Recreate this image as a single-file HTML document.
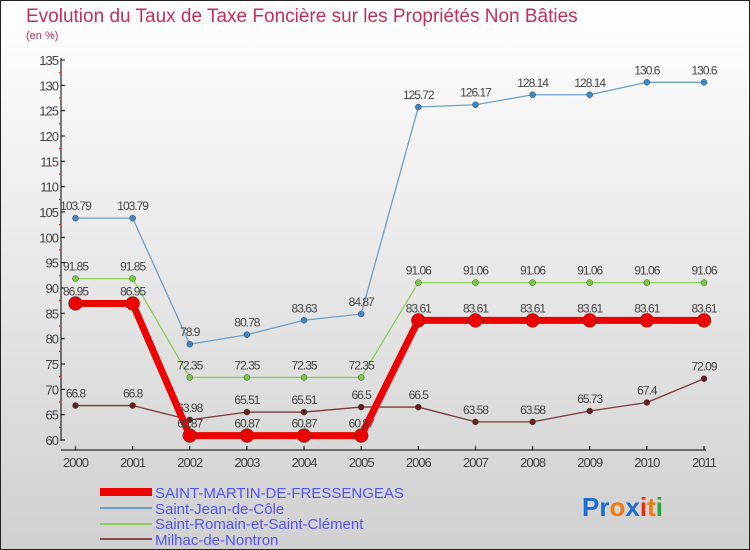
<!DOCTYPE html>
<html><head><meta charset="utf-8"><style>
body{margin:0;width:750px;height:550px;overflow:hidden}
svg{display:block;font-family:"Liberation Sans",sans-serif}
</style></head><body>
<svg id="c" width="750" height="550" xmlns="http://www.w3.org/2000/svg">
<defs><linearGradient id="bg" x1="0" y1="0" x2="0" y2="1"><stop offset="0" stop-color="#ffffff"/><stop offset="1" stop-color="#d0d0d0"/></linearGradient></defs>
<rect x="0.5" y="0.5" width="749" height="549" fill="url(#bg)" stroke="#222"/>
<text x="26" y="22" font-size="19" fill="#c0305a">Evolution du Taux de Taxe Foncière sur les Propriétés Non Bâties</text>
<text x="26" y="39" font-size="11" fill="#c0305a">(en %)</text>
<g id="axes"></g><g id="series"></g>
<g>
<rect x="100" y="488" width="52" height="8" fill="#ee0000"/>
<text x="155" y="498" font-size="15" fill="#5555ee">SAINT-MARTIN-DE-FRESSENGEAS</text>
<line x1="100" y1="508" x2="152" y2="508" stroke="#6fa0c8" stroke-width="2"/>
<text x="155" y="514" font-size="15" fill="#5555ee">Saint-Jean-de-Côle</text>
<line x1="100" y1="524" x2="152" y2="524" stroke="#8ccf5a" stroke-width="2"/>
<text x="155" y="529" font-size="15" fill="#5555ee">Saint-Romain-et-Saint-Clément</text>
<line x1="100" y1="539" x2="152" y2="539" stroke="#8a4a4a" stroke-width="2"/>
<text x="155" y="545" font-size="15" fill="#5555ee">Milhac-de-Nontron</text>
</g>
<text x="582" y="516" font-size="26" font-weight="bold"><tspan fill="#1a6fd0">Pr</tspan><tspan fill="#f07a10">o</tspan><tspan fill="#1a6fd0">x</tspan><tspan fill="#e03010">i</tspan><tspan fill="#f07a10">t</tspan><tspan fill="#30a040">i</tspan></text>
</svg>
<script>
const years=[2000,2001,2002,2003,2004,2005,2006,2007,2008,2009,2010,2011];
const yTicks=[60,65,70,75,80,85,90,95,100,105,110,115,120,125,130,135];
const saintMartin=[86.95,86.95,60.87,60.87,60.87,60.87,83.61,83.61,83.61,83.61,83.61,83.61];
const saintJean=[103.79,103.79,78.9,80.78,83.63,84.87,125.72,126.17,128.14,128.14,130.6,130.6];
const saintRomain=[91.85,91.85,72.35,72.35,72.35,72.35,91.06,91.06,91.06,91.06,91.06,91.06];
const milhac=[66.8,66.8,63.98,65.51,65.51,66.5,66.5,63.58,63.58,65.73,67.4,72.09];
const NS="http://www.w3.org/2000/svg";
const X=i=>75.5+i*(704-75.5)/(years.length-1);
const Y=v=>440-(v-60)*(380/75);
function mk(t,a,p){const e=document.createElementNS(NS,t);for(const k in a)e.setAttribute(k,a[k]);p.appendChild(e);return e;}
const ax=document.getElementById('axes');
mk('line',{x1:61,y1:58,x2:61,y2:441,stroke:'#000'},ax);
mk('line',{x1:61,y1:450,x2:706,y2:450,stroke:'#000'},ax);
yTicks.forEach(v=>{
 mk('line',{x1:61,y1:Y(v),x2:65,y2:Y(v),stroke:'#000'},ax);
 if(v<135)mk('line',{x1:59,y1:Y(v+2.5),x2:61,y2:Y(v+2.5),stroke:'#e00'},ax);
 const t=mk('text',{x:58,y:Y(v)+5,'font-size':13,fill:'#444','text-anchor':'end','letter-spacing':'-1'},ax);
 
 
 t.textContent=v;
});
years.forEach((yr,i)=>{
 mk('line',{x1:X(i),y1:446,x2:X(i),y2:450,stroke:'#000'},ax);
 const t=mk('text',{x:X(i),y:467,'font-size':13,fill:'#444','text-anchor':'middle','letter-spacing':'-1'},ax);
 
 
 t.textContent=yr;
});
const sg=document.getElementById('series');
function draw(name,data,color,w,r,ptFill){
 const g=mk('g',{},sg);
 
 
 const pl=mk('polyline',{points:data.map((v,i)=>X(i)+','+Y(v)).join(' '),fill:'none',stroke:color,'stroke-width':w,'stroke-linejoin':'round'},g);
 
 
 data.forEach((v,i)=>{
  const c=mk('circle',{cx:X(i),cy:Y(v),r:r,fill:ptFill,stroke:'#444','stroke-width':0.5},g);
  
  
  const t=mk('text',{x:X(i),y:Y(v)-8,'font-size':12,fill:'#444','text-anchor':'middle','letter-spacing':'-1'},g);
  
  
  t.textContent=v;
 });
}
draw('saint-jean',saintJean,'#6fa0c8',1.3,3,'#3a88c8');
draw('saint-romain',saintRomain,'#8ccf5a',1.3,3,'#78c840');
draw('milhac',milhac,'#7a3a3a',1.3,3,'#6a1f1f');
draw('saint-martin',saintMartin,'#ee0000',7,7,'#ee0000');
</script>
</body></html>
